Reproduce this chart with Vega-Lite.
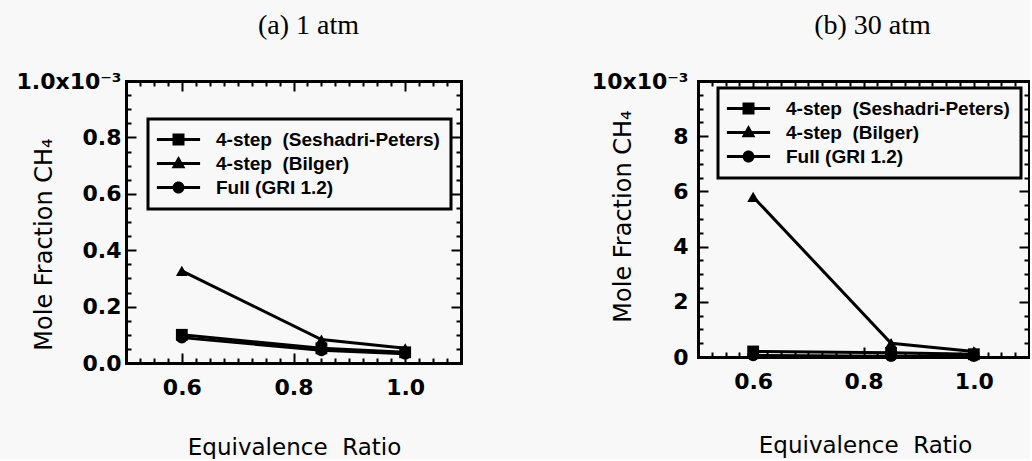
{
  "$schema": "https://vega.github.io/schema/vega-lite/v6.json",
  "background": "#f8f8f8",
  "padding": {"left": 15, "top": 11, "right": 0, "bottom": 0},
  "config": {
    "view": {"stroke": null},
    "axis": {"domainColor": "black", "domainWidth": 3, "domainCap": "square", "ticks": true, "tickOpacity": 1, "tickColor": "black", "tickWidth": 2, "grid": false,
      "labelFont": "DejaVu Sans", "labelFontWeight": "bold", "labelFontSize": 22, "labelColor": "black",
      "titleFont": "DejaVu Sans", "titleFontWeight": "normal", "titleFontSize": 23, "titleColor": "black",
      "titleAlign": "center", "titleBaseline": "middle",
      "labelOverlap": false, "labelFlush": false},
    "legend": {"title": null, "orient": "none", "strokeColor": "black", "strokeWidth": 3, "fillColor": "#f8f8f8",
      "padding": 11, "labelFont": "Liberation Sans", "labelFontWeight": "bold", "labelFontSize": 19, "labelColor": "black", "labelLimit": 400,
      "symbolSize": 144, "symbolStrokeWidth": 0, "symbolFillColor": "black",
      "symbolOffset": 10, "labelOffset": 28, "rowPadding": 4}
  },
  "datasets": {
    "p1": [
      {"phi": 0.6, "ch4": 0.100, "model": "4-step\u00a0\u00a0(Seshadri-Peters)"},
      {"phi": 0.85, "ch4": 0.052, "model": "4-step\u00a0\u00a0(Seshadri-Peters)"},
      {"phi": 1.0, "ch4": 0.038, "model": "4-step\u00a0\u00a0(Seshadri-Peters)"},
      {"phi": 0.6, "ch4": 0.327, "model": "4-step\u00a0\u00a0(Bilger)"},
      {"phi": 0.85, "ch4": 0.083, "model": "4-step\u00a0\u00a0(Bilger)"},
      {"phi": 1.0, "ch4": 0.052, "model": "4-step\u00a0\u00a0(Bilger)"},
      {"phi": 0.6, "ch4": 0.090, "model": "Full (GRI 1.2)"},
      {"phi": 0.85, "ch4": 0.045, "model": "Full (GRI 1.2)"},
      {"phi": 1.0, "ch4": 0.033, "model": "Full (GRI 1.2)"}
    ],
    "p2": [
      {"phi": 0.6, "ch4": 0.20, "model": "4-step\u00a0\u00a0(Seshadri-Peters)"},
      {"phi": 0.85, "ch4": 0.15, "model": "4-step\u00a0\u00a0(Seshadri-Peters)"},
      {"phi": 1.0, "ch4": 0.10, "model": "4-step\u00a0\u00a0(Seshadri-Peters)"},
      {"phi": 0.6, "ch4": 5.8, "model": "4-step\u00a0\u00a0(Bilger)"},
      {"phi": 0.85, "ch4": 0.50, "model": "4-step\u00a0\u00a0(Bilger)"},
      {"phi": 1.0, "ch4": 0.20, "model": "4-step\u00a0\u00a0(Bilger)"},
      {"phi": 0.6, "ch4": 0.06, "model": "Full (GRI 1.2)"},
      {"phi": 0.85, "ch4": 0.03, "model": "Full (GRI 1.2)"},
      {"phi": 1.0, "ch4": 0.03, "model": "Full (GRI 1.2)"}
    ]
  },
  "spacing": 129,
  "resolve": {"scale": {"x": "independent", "y": "independent", "shape": "independent"}, "legend": {"shape": "independent"}},
  "hconcat": [
    {
      "width": 335, "height": 282,
      "data": {"name": "p1"},
      "resolve": {"axis": {"x": "independent", "y": "independent"}, "scale": {"shape": "independent"}, "legend": {"shape": "independent"}},
      "layer": [
        {
          "mark": {"type": "line", "color": "black", "strokeWidth": 3},
          "encoding": {
            "x": {"field": "phi", "type": "quantitative", "scale": {"domain": [0.5, 1.1], "nice": false, "zero": false},
              "axis": {"orient": "bottom", "title": "Equivalence\u00a0\u00a0Ratio", "titleX": 168, "titleY": 84, "labelPadding": 24,
                "values": [0.5,0.525,0.55,0.575,0.6,0.625,0.65,0.675,0.7,0.725,0.75,0.775,0.8,0.825,0.85,0.875,0.9,0.925,0.95,0.975,1.0,1.025,1.05,1.075,1.1],
                "labelExpr": "abs(datum.value*5-round(datum.value*5))<0.001 ? format(datum.value,'.1f') : ''",
                "tickSize": {"condition": {"test": "abs(datum.value*5-round(datum.value*5))<0.001", "value": -10}, "value": -5}}},
            "y": {"field": "ch4", "type": "quantitative", "scale": {"domain": [0, 1], "nice": false},
              "axis": {"orient": "left", "title": "Mole Fraction CH₄", "titleX": -82, "titleY": 163, "titleAngle": 270,
                "titleFontSize": 24, "labelPadding": 15,
                "values": [0,0.05,0.1,0.15,0.2,0.25,0.3,0.35,0.4,0.45,0.5,0.55,0.6,0.65,0.7,0.75,0.8,0.85,0.9,0.95,1.0],
                "labelExpr": "abs(datum.value*5-round(datum.value*5))<0.001 ? (datum.value>0.99 ? '1.0x10⁻³' : format(datum.value,'.1f')) : ''",
                "tickSize": {"condition": {"test": "abs(datum.value*5-round(datum.value*5))<0.001", "value": -10}, "value": -5}}},
            "detail": {"field": "model", "type": "nominal"}
          }
        },
        {
          "mark": {"type": "point", "filled": true, "color": "black", "opacity": 1, "size": 140},
          "encoding": {
            "x": {"field": "phi", "type": "quantitative",
              "axis": {"orient": "top", "labels": false, "title": "(a) 1 atm", "titleFont": "Liberation Serif", "titleFontSize": 28,
                "titleX": 182, "titleY": -56, "titleAngle": 0,
                "values": [0.5,0.525,0.55,0.575,0.6,0.625,0.65,0.675,0.7,0.725,0.75,0.775,0.8,0.825,0.85,0.875,0.9,0.925,0.95,0.975,1.0,1.025,1.05,1.075,1.1],
                "tickSize": {"condition": {"test": "abs(datum.value*5-round(datum.value*5))<0.001", "value": -10}, "value": -5}}},
            "y": {"field": "ch4", "type": "quantitative",
              "axis": {"orient": "right", "title": null, "labels": false,
                "values": [0,0.05,0.1,0.15,0.2,0.25,0.3,0.35,0.4,0.45,0.5,0.55,0.6,0.65,0.7,0.75,0.8,0.85,0.9,0.95,1.0],
                "tickSize": {"condition": {"test": "abs(datum.value*5-round(datum.value*5))<0.001", "value": -10}, "value": -5}}},
            "shape": {"field": "model", "type": "nominal",
              "scale": {"domain": ["4-step\u00a0\u00a0(Seshadri-Peters)", "4-step\u00a0\u00a0(Bilger)", "Full (GRI 1.2)"], "range": ["square", "triangle-up", "circle"]},
              "legend": null}
          }
        },
        {
          "transform": [{"filter": "datum.phi > 5"}],
          "mark": {"type": "point", "filled": true, "color": "black", "opacity": 1},
          "encoding": {
            "x": {"field": "phi", "type": "quantitative", "axis": null},
            "y": {"field": "ch4", "type": "quantitative", "axis": null},
            "shape": {"field": "model", "type": "nominal",
              "scale": {"domain": ["4-step\u00a0\u00a0(Seshadri-Peters)", "4-step\u00a0\u00a0(Bilger)", "Full (GRI 1.2)"],
                "range": ["M-3.6,-0.25H3.6V0.25H-3.6Z M-1,-1H1V1H-1Z", "M-3.6,-0.25H3.6V0.25H-3.6Z M0,-1.25L1.15,0.8H-1.15Z", "M-3.6,-0.25H3.6V0.25H-3.6Z M1,0A1,1 0 1,1 -1,0A1,1 0 1,1 1,0Z"]},
              "legend": {"legendX": 22, "legendY": 38}}
          }
        }
      ]
    },
    {
      "width": 331, "height": 276,
      "data": {"name": "p2"},
      "resolve": {"axis": {"x": "independent", "y": "independent"}, "scale": {"shape": "independent"}, "legend": {"shape": "independent"}},
      "layer": [
        {
          "mark": {"type": "line", "color": "black", "strokeWidth": 3},
          "encoding": {
            "x": {"field": "phi", "type": "quantitative", "scale": {"domain": [0.5, 1.1], "nice": false, "zero": false},
              "axis": {"orient": "bottom", "title": "Equivalence\u00a0\u00a0Ratio", "titleX": 167, "titleY": 88, "labelPadding": 24,
                "values": [0.5,0.525,0.55,0.575,0.6,0.625,0.65,0.675,0.7,0.725,0.75,0.775,0.8,0.825,0.85,0.875,0.9,0.925,0.95,0.975,1.0,1.025,1.05,1.075,1.1],
                "labelExpr": "abs(datum.value*5-round(datum.value*5))<0.001 ? format(datum.value,'.1f') : ''",
                "tickSize": {"condition": {"test": "abs(datum.value*5-round(datum.value*5))<0.001", "value": -10}, "value": -5}}},
            "y": {"field": "ch4", "type": "quantitative", "scale": {"domain": [0, 10], "nice": false},
              "axis": {"orient": "left", "title": "Mole Fraction CH₄", "titleX": -75, "titleY": 135, "titleAngle": 270,
                "titleFontSize": 24, "labelPadding": 20,
                "values": [0,0.5,1,1.5,2,2.5,3,3.5,4,4.5,5,5.5,6,6.5,7,7.5,8,8.5,9,9.5,10],
                "labelExpr": "abs(datum.value/2-round(datum.value/2))<0.001 ? (datum.value>9.99 ? '10x10⁻³' : format(datum.value,'d')) : ''",
                "tickSize": {"condition": {"test": "abs(datum.value/2-round(datum.value/2))<0.001", "value": -10}, "value": -5}}},
            "detail": {"field": "model", "type": "nominal"}
          }
        },
        {
          "mark": {"type": "point", "filled": true, "color": "black", "opacity": 1, "size": 140},
          "encoding": {
            "x": {"field": "phi", "type": "quantitative",
              "axis": {"orient": "top", "labels": false, "title": "(b) 30 atm", "titleFont": "Liberation Serif", "titleFontSize": 28,
                "titleX": 174, "titleY": -56, "titleAngle": 0,
                "values": [0.5,0.525,0.55,0.575,0.6,0.625,0.65,0.675,0.7,0.725,0.75,0.775,0.8,0.825,0.85,0.875,0.9,0.925,0.95,0.975,1.0,1.025,1.05,1.075,1.1],
                "tickSize": {"condition": {"test": "abs(datum.value*5-round(datum.value*5))<0.001", "value": -10}, "value": -5}}},
            "y": {"field": "ch4", "type": "quantitative",
              "axis": {"orient": "right", "title": null, "labels": false,
                "values": [0,0.5,1,1.5,2,2.5,3,3.5,4,4.5,5,5.5,6,6.5,7,7.5,8,8.5,9,9.5,10],
                "tickSize": {"condition": {"test": "abs(datum.value/2-round(datum.value/2))<0.001", "value": -10}, "value": -5}}},
            "shape": {"field": "model", "type": "nominal",
              "scale": {"domain": ["4-step\u00a0\u00a0(Seshadri-Peters)", "4-step\u00a0\u00a0(Bilger)", "Full (GRI 1.2)"], "range": ["square", "triangle-up", "circle"]},
              "legend": null}
          }
        },
        {
          "transform": [{"filter": "datum.phi > 5"}],
          "mark": {"type": "point", "filled": true, "color": "black", "opacity": 1},
          "encoding": {
            "x": {"field": "phi", "type": "quantitative", "axis": null},
            "y": {"field": "ch4", "type": "quantitative", "axis": null},
            "shape": {"field": "model", "type": "nominal",
              "scale": {"domain": ["4-step\u00a0\u00a0(Seshadri-Peters)", "4-step\u00a0\u00a0(Bilger)", "Full (GRI 1.2)"],
                "range": ["M-3.6,-0.25H3.6V0.25H-3.6Z M-1,-1H1V1H-1Z", "M-3.6,-0.25H3.6V0.25H-3.6Z M0,-1.25L1.15,0.8H-1.15Z", "M-3.6,-0.25H3.6V0.25H-3.6Z M1,0A1,1 0 1,1 -1,0A1,1 0 1,1 1,0Z"]},
              "legend": {"legendX": 20, "legendY": 7}}
          }
        }
      ]
    }
  ]
}
